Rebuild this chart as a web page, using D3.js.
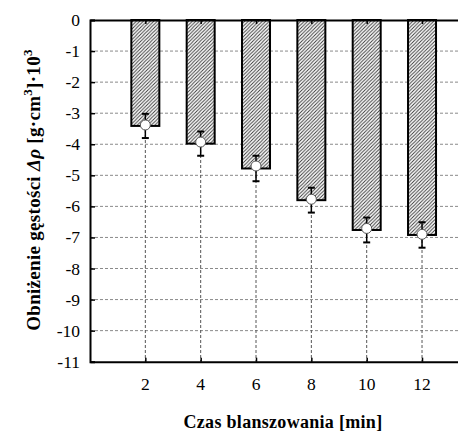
<!DOCTYPE html>
<html>
<head>
<meta charset="utf-8">
<script src="https://cdn.jsdelivr.net/npm/d3@7"></script>
<style>
  body { margin: 0; background: #fff; }
</style>
</head>
<body>
<svg id="graf" width="458" height="433"></svg>
<script>
// data
var casy = [2, 4, 6, 8, 10, 12]
var hodnoty = [-3.41, -3.98, -4.78, -5.80, -6.76, -6.92]
var body = [-3.38, -3.93, -4.70, -5.77, -6.71, -6.90]
var chyby = [0.39, 0.39, 0.41, 0.40, 0.40, 0.41]
var yTicky = [0, -1, -2, -3, -4, -5, -6, -7, -8, -9, -10, -11]

var pismo = "'Liberation Serif'"
var svg = d3.select("#graf")

var x = d3.scaleLinear().domain([0, 13.3]).range([90, 458])
var y = d3.scaleLinear().domain([0, -11]).range([20, 361.7])
var sirka = 28

// šrafování
var defs = svg.append("defs")
var vzor = defs.append("pattern")
  .attr("id", "srafa")
  .attr("patternUnits", "userSpaceOnUse")
  .attr("width", 3.5).attr("height", 3.5)
vzor.append("rect").attr("width", 3.5).attr("height", 3.5).attr("fill", "#fff")
vzor.append("path")
  .attr("d", "M-1,1 l2,-2 M0,3.5 l3.5,-3.5 M2.5,4.5 l2,-2")
  .attr("stroke", "#333").attr("stroke-width", 0.9)

// mřížka vodorovná
svg.append("g").selectAll("line")
  .data(yTicky.filter(d => d != 0 && d != -11))
  .enter().append("line")
  .attr("x1", x.range()[0]).attr("x2", x.range()[1])
  .attr("y1", d => y(d)).attr("y2", d => y(d))
  .attr("stroke", "#8a8a8a").attr("stroke-width", 1)
  .attr("stroke-dasharray", "3,2")

// mřížka svislá
svg.append("g").selectAll("line")
  .data(casy)
  .enter().append("line")
  .attr("x1", d => x(d)).attr("x2", d => x(d))
  .attr("y1", y(0)).attr("y2", y(-11))
  .attr("stroke", "#555").attr("stroke-width", 1)
  .attr("stroke-dasharray", "3,2")

// sloupce
svg.append("g").selectAll("rect")
  .data(hodnoty)
  .enter().append("rect")
  .attr("x", (d, i) => x(casy[i]) - sirka / 2)
  .attr("y", y(0))
  .attr("width", sirka)
  .attr("height", d => y(d) - y(0))
  .attr("fill", "url(#srafa)")
  .attr("stroke", "#000").attr("stroke-width", 2)

// osa y
var osaY = svg.append("g")
  .attr("transform", "translate(" + x.range()[0] + ",0)")
  .call(d3.axisRight(y).tickValues(yTicky).tickSize(5).tickFormat(""))
osaY.select(".domain").attr("stroke-width", 2)
osaY.selectAll(".tick line").attr("stroke-width", 1.5)

svg.append("g").selectAll("text")
  .data(yTicky)
  .enter().append("text")
  .attr("x", 80)
  .attr("y", d => y(d) + 6)
  .attr("text-anchor", "end")
  .style("font-family", pismo)
  .style("font-size", "17.5px")
  .text(d => d)

// osa x nahoře a dole
var osaHorni = svg.append("g")
  .attr("transform", "translate(0," + y(0) + ")")
  .call(d3.axisBottom(x).tickValues(casy).tickSize(4).tickSizeOuter(0).tickFormat(""))
osaHorni.select(".domain").attr("stroke-width", 2)
osaHorni.selectAll(".tick line").attr("stroke-width", 1.5)

var osaDolni = svg.append("g")
  .attr("transform", "translate(0," + y(-11) + ")")
  .call(d3.axisTop(x).tickValues(casy).tickSize(4).tickSizeOuter(0).tickFormat(""))
osaDolni.select(".domain").attr("stroke-width", 2)
osaDolni.selectAll(".tick line").attr("stroke-width", 1.5)

svg.append("g").selectAll("text")
  .data(casy)
  .enter().append("text")
  .attr("x", d => x(d))
  .attr("y", 390)
  .attr("text-anchor", "middle")
  .style("font-family", pismo)
  .style("font-size", "17.5px")
  .text(d => d)

// chybové úsečky
var chyba = svg.append("g").selectAll("g")
  .data(hodnoty)
  .enter().append("g")
chyba.append("line")
  .attr("x1", (d, i) => x(casy[i])).attr("x2", (d, i) => x(casy[i]))
  .attr("y1", (d, i) => y(d + chyby[i])).attr("y2", (d, i) => y(d - chyby[i]))
  .attr("stroke", "#000").attr("stroke-width", 1.5)
chyba.append("line")
  .attr("x1", (d, i) => x(casy[i]) - 3.5).attr("x2", (d, i) => x(casy[i]) + 3.5)
  .attr("y1", (d, i) => y(d + chyby[i])).attr("y2", (d, i) => y(d + chyby[i]))
  .attr("stroke", "#000").attr("stroke-width", 2)
chyba.append("line")
  .attr("x1", (d, i) => x(casy[i]) - 3.5).attr("x2", (d, i) => x(casy[i]) + 3.5)
  .attr("y1", (d, i) => y(d - chyby[i])).attr("y2", (d, i) => y(d - chyby[i]))
  .attr("stroke", "#000").attr("stroke-width", 2)

// puntíky
svg.append("g").selectAll("circle")
  .data(body)
  .enter().append("circle")
  .attr("cx", (d, i) => x(casy[i]))
  .attr("cy", d => y(d))
  .attr("r", 5)
  .attr("fill", "#fff")
  .attr("stroke", "#555").attr("stroke-width", 1)

// popisky os
svg.append("text")
  .attr("x", 283).attr("y", 428)
  .attr("text-anchor", "middle")
  .style("font-family", pismo)
  .style("font-size", "18px").style("font-weight", "bold")
  .style("letter-spacing", "0.3px")
  .text("Czas blanszowania [min]")

var popisY = svg.append("text")
  .attr("transform", "translate(40,190) rotate(-90)")
  .attr("text-anchor", "middle")
  .style("font-family", pismo)
  .style("font-size", "19px").style("font-weight", "bold")
  .style("letter-spacing", "0.3px")
popisY.append("tspan").text("Obniżenie gęstości ")
popisY.append("tspan").style("font-style", "italic").text("Δρ")
popisY.append("tspan").text(" [g·cm")
popisY.append("tspan").attr("dy", -8).style("font-size", "13px").text("3")
popisY.append("tspan").attr("dy", 8).text("]·10")
popisY.append("tspan").attr("dy", -8).style("font-size", "13px").text("3")
</script>
</body>
</html>
